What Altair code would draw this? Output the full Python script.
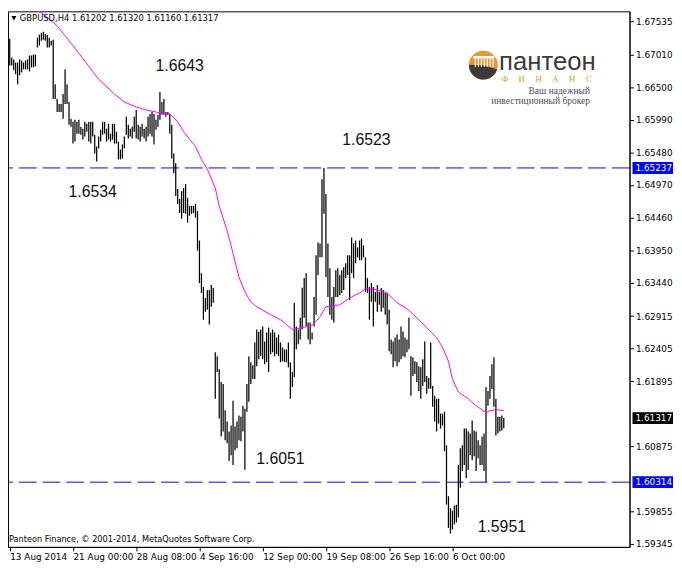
import json
import altair as alt
import pandas as pd

# ---------------- data ----------------
bar_high = [
    1.67262, 1.66968, 1.66937, 1.66890, 1.66890, 1.66937, 1.66921, 1.66890, 1.66921, 1.66937,
    1.66999, 1.66999, 1.67014, 1.67014, 1.67278, 1.67324, 1.67355, 1.67371, 1.67340, 1.67324,
    1.67278, 1.67231, 1.67247, 1.66549, 1.66317, 1.66239, 1.66239, 1.66394, 1.66782, 1.66549,
    1.66270, 1.66007, 1.65960, 1.65991, 1.65960, 1.65991, 1.65883, 1.65852, 1.65960, 1.65929,
    1.65960, 1.65960, 1.65960, 1.65759, 1.65573, 1.65728, 1.65836, 1.65960, 1.65960, 1.65852,
    1.65929, 1.65774, 1.65929, 1.65929, 1.65805, 1.65650, 1.65526, 1.65604, 1.65728, 1.66038,
    1.65914, 1.65852, 1.65883, 1.66038, 1.66146, 1.65914, 1.65883, 1.65929, 1.65852, 1.65883,
    1.66038, 1.66084, 1.66115, 1.66084, 1.65991, 1.66069, 1.66430, 1.66270, 1.66317, 1.66115,
    1.66115, 1.66084, 1.65914, 1.65464, 1.65309, 1.64906, 1.64751, 1.64875, 1.64922, 1.64984,
    1.64767, 1.64643, 1.64643, 1.64643, 1.64674, 1.64565, 1.64100, 1.63589, 1.63371, 1.63201,
    1.63325, 1.63325, 1.63403, 1.63356, 1.62349, 1.62286, 1.62085, 1.61884, 1.61853, 1.61440,
    1.61263, 1.61109, 1.61202, 1.61589, 1.61186, 1.61263, 1.61357, 1.61341, 1.61512, 1.61465,
    1.61853, 1.62286, 1.62194, 1.62147, 1.62504, 1.62705, 1.62670, 1.62705, 1.62752, 1.62519,
    1.62659, 1.62736, 1.62659, 1.62705, 1.62659, 1.62581, 1.62628, 1.62504, 1.62426, 1.62395,
    1.62395, 1.62504, 1.62194, 1.62039, 1.63124, 1.62752, 1.62705, 1.62891, 1.63360, 1.63511,
    1.63589, 1.62814, 1.62814, 1.62659, 1.63217, 1.63868, 1.64069, 1.64054, 1.65061, 1.65237,
    1.64829, 1.64054, 1.63666, 1.63217, 1.63371, 1.63635, 1.63666, 1.63558, 1.63635, 1.63682,
    1.63744, 1.63868, 1.63868, 1.64147, 1.64054, 1.64100, 1.63992, 1.64100, 1.64131, 1.64023,
    1.63837, 1.63511, 1.63371, 1.63434, 1.63371, 1.63294, 1.63403, 1.63294, 1.63356, 1.63325,
    1.63279, 1.63279, 1.63015, 1.62550, 1.62519, 1.62581, 1.62628, 1.62550, 1.62752, 1.62674,
    1.62581, 1.62550, 1.62891, 1.62287, 1.62271, 1.62209, 1.62194, 1.62132, 1.62116, 1.62240,
    1.62519, 1.61977, 1.61946, 1.62504, 1.61822, 1.61667, 1.61620, 1.61620, 1.61388, 1.61388,
    1.61419, 1.60892, 1.60093, 1.59907, 1.59869, 1.59946, 1.59962, 1.60582, 1.60845, 1.60892,
    1.61155, 1.61155, 1.61109, 1.61078, 1.61279, 1.61124, 1.61109, 1.60969, 1.60892, 1.61031,
    1.61078, 1.61806, 1.61744, 1.61977, 1.62163, 1.62271, 1.61620, 1.61341, 1.61341, 1.61357,
    1.61320,
]
bar_low = [
    1.66844, 1.66844, 1.66766, 1.66704, 1.66549, 1.66689, 1.66735, 1.66782, 1.66782, 1.66782,
    1.66751, 1.66813, 1.66813, 1.66828, 1.67123, 1.67154, 1.67231, 1.67247, 1.67231, 1.67123,
    1.67123, 1.67154, 1.66317, 1.66317, 1.66115, 1.66115, 1.66115, 1.66007, 1.66239, 1.66239,
    1.65914, 1.65883, 1.65619, 1.65650, 1.65774, 1.65774, 1.65759, 1.65681, 1.65728, 1.65805,
    1.65650, 1.65619, 1.65728, 1.65464, 1.65340, 1.65542, 1.65650, 1.65759, 1.65774, 1.65650,
    1.65681, 1.65650, 1.65681, 1.65619, 1.65619, 1.65371, 1.65371, 1.65387, 1.65542, 1.65759,
    1.65697, 1.65728, 1.65697, 1.65805, 1.65697, 1.65681, 1.65650, 1.65728, 1.65697, 1.65650,
    1.65728, 1.65774, 1.65728, 1.65604, 1.65836, 1.65883, 1.65991, 1.66069, 1.66069, 1.66038,
    1.66069, 1.65774, 1.65387, 1.65154, 1.64798, 1.64674, 1.64530, 1.64441, 1.64530, 1.64519,
    1.64379, 1.64488, 1.64519, 1.64530, 1.64457, 1.63945, 1.63434, 1.63279, 1.62860, 1.62984,
    1.63015, 1.62783, 1.63062, 1.63124, 1.61620, 1.62039, 1.61310, 1.61031, 1.61109, 1.60969,
    1.60922, 1.60644, 1.60737, 1.60582, 1.60814, 1.60845, 1.60969, 1.60954, 1.61109, 1.60510,
    1.61419, 1.61574, 1.61853, 1.61930, 1.61930, 1.62132, 1.62240, 1.62287, 1.62240, 1.62163,
    1.62194, 1.62039, 1.62318, 1.62349, 1.62287, 1.62318, 1.62287, 1.62194, 1.62209, 1.62194,
    1.62194, 1.62116, 1.61620, 1.61806, 1.61961, 1.62395, 1.62473, 1.62550, 1.62705, 1.62891,
    1.62752, 1.62550, 1.62473, 1.62550, 1.62752, 1.62938, 1.63558, 1.63837, 1.63837, 1.64519,
    1.63527, 1.63217, 1.62938, 1.62860, 1.62814, 1.63217, 1.63217, 1.63248, 1.63279, 1.63325,
    1.63511, 1.63558, 1.63170, 1.63589, 1.63511, 1.63744, 1.63837, 1.63790, 1.63790, 1.63837,
    1.63294, 1.63279, 1.62860, 1.63139, 1.62752, 1.63139, 1.62984, 1.63093, 1.62984, 1.63046,
    1.62938, 1.62783, 1.62364, 1.62318, 1.62116, 1.62209, 1.62132, 1.62194, 1.62240, 1.62287,
    1.62271, 1.62349, 1.62395, 1.61667, 1.61977, 1.62008, 1.61884, 1.61740, 1.61620, 1.61822,
    1.61884, 1.61698, 1.61776, 1.61776, 1.61496, 1.61264, 1.61109, 1.61233, 1.61155, 1.61202,
    1.60799, 1.59962, 1.59597, 1.59510, 1.59574, 1.59652, 1.59683, 1.59760, 1.60225, 1.60489,
    1.60582, 1.60380, 1.60504, 1.60737, 1.60659, 1.60721, 1.60489, 1.60690, 1.60582, 1.60582,
    1.60489, 1.60314, 1.61512, 1.61620, 1.61775, 1.61496, 1.61047, 1.61078, 1.61109, 1.61124,
    1.61160,
]
ma_index = [0, 12, 24, 32, 45, 53, 58, 64, 69, 76, 81, 85, 88, 94, 97, 100, 104, 106, 110, 113,
            116, 119, 122, 125, 132, 137, 143, 148, 153, 157, 160, 167, 172, 177, 180, 184, 188,
            191, 196, 201, 206, 211, 216, 219, 222, 224, 227, 232, 236, 241, 243, 246, 250]
ma_value = [1.68130, 1.67773, 1.67464, 1.67154, 1.66627, 1.66394, 1.66270, 1.66193, 1.66146,
            1.66100, 1.66084, 1.65960, 1.65805, 1.65572, 1.65371, 1.65216, 1.64922, 1.64643,
            1.64255, 1.63899, 1.63527, 1.63294, 1.63139, 1.63062, 1.62938, 1.62860, 1.62705,
            1.62736, 1.62767, 1.62907, 1.63062, 1.63093, 1.63201, 1.63279, 1.63341, 1.63341,
            1.63310, 1.63279, 1.63124, 1.63031, 1.62891, 1.62736, 1.62581, 1.62426, 1.62209,
            1.61930, 1.61729, 1.61620, 1.61512, 1.61403, 1.61434, 1.61450, 1.61434]

date_ticks = [0, 32, 64, 96, 128, 160, 192, 224]
date_labels = ["13 Aug 2014", "21 Aug 00:00", "28 Aug 08:00", "4 Sep 16:00",
               "12 Sep 00:00", "19 Sep 08:00", "26 Sep 16:00", "6 Oct 00:00"]
# 1.60365 and 1.61385 sit under the price-line boxes and are hidden in the picture
price_ticks = [1.59345, 1.59855, 1.60875, 1.61895, 1.62405, 1.62915,
               1.63440, 1.63950, 1.64460, 1.64970, 1.65480, 1.65990, 1.66500, 1.67010, 1.67535]
level_prices = [1.65237, 1.60314]
last_close = 1.61317
note_text = ["1.6643", "1.6534", "1.6523", "1.6051", "1.5951"]
note_index = [86, 42, 180.5, 137, 249]
note_price = [1.66836, 1.64860, 1.65681, 1.60675, 1.59605]
header_text = "GBPUSD,H4  1.61202 1.61320 1.61160 1.61317"
footer_text = "Panteon Finance, \u00a9 2001-2014, MetaQuotes Software Corp."
logo_word_text = "пантеон"
logo_sub_letters = ["Ф", "И", "Н", "А", "Н", "С"]
logo_line1 = "Ваш надежный"
logo_line2 = "инвестиционный брокер"

# ---------------- chart ----------------
W, H = 629, 542
FONT = "DejaVu Sans"
xs = alt.Scale(domain=[-0.875, 313.625], nice=False, zero=False)
ys = alt.Scale(domain=[1.59300, 1.676907], nice=False, zero=False)

label_expr = json.dumps(date_labels) + "[round(datum.value / 32)]"
x_axis = alt.Axis(
    values=date_ticks, labelExpr=label_expr, title=None, grid=False,
    labelAlign="left", labelFont=FONT, labelFontSize=9, labelColor="black",
    tickColor="black", tickSize=4, domainColor="black", labelPadding=2,
    labelFlush=False, labelOverlap=False)
y_axis = alt.Axis(
    orient="right", values=price_ticks, format=".5f", title=None, grid=False,
    labelFont=FONT, labelFontSize=9, labelColor="black", tickColor="black",
    tickSize=4, domainColor="black", labelPadding=2, labelFlush=False,
    labelOverlap=False)

bars_df = pd.DataFrame({"i": list(range(len(bar_high))), "high": bar_high, "low": bar_low})
ma_df = pd.DataFrame({"i": ma_index, "ma": ma_value})
lvl_df = pd.DataFrame({"p": level_prices})
box_df = pd.DataFrame({
    "p": level_prices + [last_close],
    "c": ["#0000ff", "#0000ff", "#000000"],
})
box_df["t"] = [f"{v:.5f}" for v in box_df["p"]]
note_df = pd.DataFrame({"i": note_index, "p": note_price, "t": note_text})

bars = alt.Chart(bars_df).mark_rule(color="black", strokeWidth=1.25).encode(
    x=alt.X("i:Q", scale=xs, axis=x_axis),
    y=alt.Y("low:Q", scale=ys, axis=y_axis),
    y2="high:Q",
)

levels = alt.Chart(lvl_df).mark_rule(color="#0000f0", strokeWidth=1, strokeDash=[18, 6]).encode(
    y=alt.Y("p:Q", scale=ys, axis=y_axis)
)

ma = alt.Chart(ma_df).mark_line(color="#ff00ff", strokeWidth=1, clip=True).encode(
    x=alt.X("i:Q", scale=xs, axis=x_axis),
    y=alt.Y("ma:Q", scale=ys, axis=y_axis),
)

notes = alt.Chart(note_df).mark_text(font="Liberation Sans", fontSize=16, color="#111111",
                                     align="center", baseline="middle").encode(
    x=alt.X("i:Q", scale=xs, axis=x_axis),
    y=alt.Y("p:Q", scale=ys, axis=y_axis),
    text="t:N",
)

boxes = alt.Chart(box_df).mark_rule(strokeWidth=12, strokeCap="butt").encode(
    y=alt.Y("p:Q", scale=ys, axis=y_axis),
    x=alt.value(632), x2=alt.value(673),
    color=alt.Color("c:N", scale=None),
)
box_text = alt.Chart(box_df).mark_text(font=FONT, fontSize=9, color="white", align="left",
                                       baseline="middle").encode(
    y=alt.Y("p:Q", scale=ys, axis=y_axis),
    x=alt.value(635),
    text="t:N",
)

one = pd.DataFrame({"k": [0]})
header_tri = alt.Chart(one).mark_point(shape="triangle-down", filled=True, size=26,
                                       color="black", opacity=1).encode(
    x=alt.value(6), y=alt.value(7))
header = alt.Chart(one).mark_text(font=FONT, fontSize=8.5, color="black", align="left",
                                  baseline="middle", text=header_text).encode(
    x=alt.value(12), y=alt.value(7))
footer = alt.Chart(one).mark_text(font=FONT, fontSize=8.3, color="black", align="left",
                                  baseline="middle", text=footer_text).encode(
    x=alt.value(1), y=alt.value(535))

# logo (page coords minus 8)
LCX, LCY = 481, 54.5
logo_circle = alt.Chart(one).mark_point(shape="circle", filled=True, size=860,
                                        color="#e8962e", opacity=1).encode(
    x=alt.value(LCX), y=alt.value(LCY))
logo_dark = alt.Chart(one).mark_arc(radius=14.5, theta=1.85, theta2=4.75, color="#3b3b3b").encode(
    x=alt.value(LCX), y=alt.value(LCY))
logo_band = alt.Chart(one).mark_rule(color="white", strokeWidth=2.5).encode(
    x=alt.value(471), x2=alt.value(492), y=alt.value(46.5))
col_df = pd.DataFrame({"cx": [473, 476, 479, 482, 485, 488, 491]})
logo_cols = alt.Chart(col_df).mark_rule(color="white", strokeWidth=1.2).encode(
    x=alt.X("cx:Q", scale=None), y=alt.value(48), y2=alt.value(56))
logo_word = alt.Chart(one).mark_text(font="Liberation Sans", fontSize=26, color="#3b3b3b",
                                     align="left", baseline="alphabetic",
                                     text=logo_word_text).encode(
    x=alt.value(497), y=alt.value(59))
sub_df = pd.DataFrame({"t": logo_sub_letters, "sx": [503, 520, 537, 554, 571, 588]})
logo_sub = alt.Chart(sub_df).mark_text(font="Liberation Serif", fontSize=9, color="#e8962e",
                                       align="center", baseline="middle").encode(
    x=alt.X("sx:Q", scale=None), y=alt.value(69), text="t:N")
logo_l1 = alt.Chart(one).mark_text(font="Liberation Serif", fontSize=9.6, color="#505050",
                                   align="right", baseline="middle", text=logo_line1).encode(
    x=alt.value(589), y=alt.value(80.5))
logo_l2 = alt.Chart(one).mark_text(font="Liberation Serif", fontSize=9.6, color="#505050",
                                   align="right", baseline="middle",
                                   text=logo_line2).encode(
    x=alt.value(589), y=alt.value(90.5))

chart = alt.layer(
    levels, bars, ma, notes, boxes, box_text, header_tri, header, footer,
    logo_circle, logo_dark, logo_band, logo_cols, logo_word, logo_sub, logo_l1, logo_l2,
).properties(
    width=W, height=H,
    autosize=alt.AutoSizeParams(type="none"),
    padding={"left": 0, "top": 0, "right": 45, "bottom": 20},
    background="white",
).configure_view(stroke="black", strokeWidth=1)

chart.save("out.html", embed_options={"renderer": "svg", "actions": False})
